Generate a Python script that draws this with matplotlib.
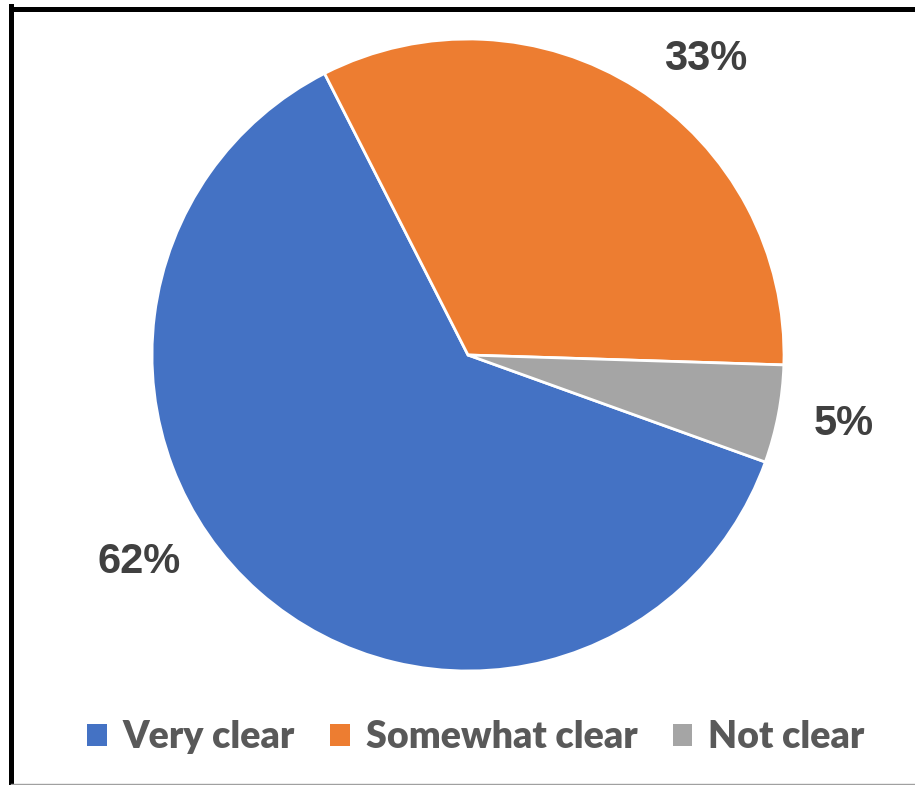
import numpy as np
import matplotlib.pyplot as plt
from matplotlib.patches import Patch
from matplotlib.lines import Line2D

# 数据
categories = ['Very clear', 'Somewhat clear', 'Not clear']
shares = [62, 33, 5]
pct_labels = ['62%', '33%', '5%']
colors = ['#4472C4', '#ED7D31', '#A5A5A5']

W, H = 915, 785
cx, cy, R = 468, 355, 316  # 饼图圆心和半径（像素）

fig = plt.figure(figsize=(W / 100, H / 100), dpi=100)
ax = fig.add_axes([0, 0, 1, 1])
ax.axis('off')

wedges, _ = ax.pie(shares, colors=colors, startangle=-19.8, counterclock=False,
                   radius=1.0, wedgeprops=dict(edgecolor='white', linewidth=2))
ax.set_aspect('auto')
ax.set_xlim(-cx / R, (W - cx) / R)
ax.set_ylim((cy - H) / R, cy / R)

# 数据标签（Excel 最佳位置，手动微调角度）
angle_shift = [-16.5, -6.4, 0.4]
label_r = [1.23, 1.2, 1.21]
for w, lab, da, r in zip(wedges, pct_labels, angle_shift, label_r):
    mid = np.deg2rad((w.theta1 + w.theta2) / 2 + da)
    ax.text(r * np.cos(mid), r * np.sin(mid), lab, ha='center', va='center',
            fontsize=30, fontweight='bold', color='#404040',
            family='Liberation Sans')

handles = [Patch(facecolor=c, edgecolor='none') for c in colors]
leg = fig.legend(handles, categories, loc='center', bbox_to_anchor=(0.520, 0.061),
                 ncol=3, frameon=False, handlelength=0.52, handleheight=0.52,
                 handletextpad=0.42, columnspacing=0.95,
                 prop=dict(family='Lato', weight='heavy', size=27))
for t in leg.get_texts():
    t.set_color('#595959')

# 外框
fig.add_artist(Line2D([10.5 / W, 10.5 / W], [0, 1 - 6 / H], color='black', lw=3.6,
                      transform=fig.transFigure, solid_capstyle='projecting'))
fig.add_artist(Line2D([10.5 / W, 1], [1 - 8.5 / H, 1 - 8.5 / H], color='black', lw=3.6,
                      transform=fig.transFigure, solid_capstyle='projecting'))
fig.add_artist(Line2D([10.5 / W, 1], [1.5 / H, 1.5 / H], color='#A0A0A0', lw=1,
                      transform=fig.transFigure))

fig.savefig('out.png', dpi=100)
